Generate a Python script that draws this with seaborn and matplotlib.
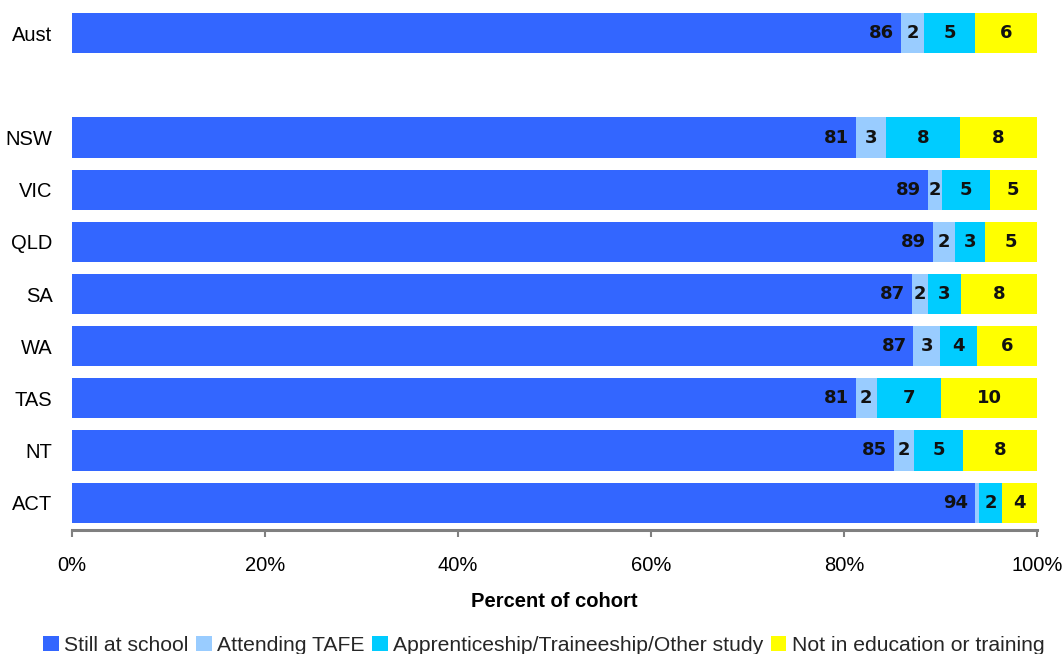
import numpy as np
import pandas as pd
import matplotlib
matplotlib.use("Agg")
import matplotlib.pyplot as plt
from matplotlib.patches import Patch
import seaborn as sns

# Destination of the school-leaving cohort, by jurisdiction (percent)
regions = ["Aust", "NSW", "VIC", "QLD", "SA", "WA", "TAS", "NT", "ACT"]
still_at_school = [85.9, 81.2, 88.7, 89.2, 87.0, 87.2, 81.2, 85.2, 93.6]
attending_tafe = [2.4, 3.2, 1.5, 2.3, 1.7, 2.8, 2.2, 2.1, 0.4]
apprenticeship = [5.3, 7.6, 4.9, 3.1, 3.4, 3.8, 6.7, 5.0, 2.4]
not_in_education = [6.4, 8.0, 4.9, 5.4, 7.9, 6.2, 9.9, 7.7, 3.6]

series_names = [
    "Still at school",
    "Attending TAFE",
    "Apprenticeship/Traineeship/Other study",
    "Not in education or training",
]
series_colors = ["#3366FF", "#99CCFF", "#00CCFF", "#FFFF00"]
x_ticks = [0, 20, 40, 60, 80, 100]

# Row order leaves a blank slot between the national total and the states
row_order = ["Aust", " ", "NSW", "VIC", "QLD", "SA", "WA", "TAS", "NT", "ACT"]

df = pd.DataFrame({
    "region": regions,
    series_names[0]: still_at_school,
    series_names[1]: attending_tafe,
    series_names[2]: apprenticeship,
    series_names[3]: not_in_education,
})
cum = df[series_names].cumsum(axis=1)

sns.set_theme(style="white")
plt.rcParams["font.family"] = ["Liberation Sans", "DejaVu Sans"]

fig = plt.figure(figsize=(10.64, 6.54), dpi=100)
ax = fig.add_axes([0.0677, 0.19, 0.9069, 0.799])

# Stacked bars: draw cumulative totals from the outermost segment inward
for name, color in reversed(list(zip(series_names, series_colors))):
    sns.barplot(
        x=cum[name], y=df["region"], order=row_order, orient="h",
        color=color, saturation=1, width=0.77, edgecolor="none",
        linewidth=0, ax=ax,
    )

# Value labels
pos = {r: row_order.index(r) for r in regions}
for i, r in enumerate(regions):
    y = pos[r]
    left = 0.0
    for k, name in enumerate(series_names):
        v = df.loc[i, name]
        if v >= 1:
            txt = f"{v:.0f}"
            if k == 0:
                ax.text(left + v - 0.7, y, txt, ha="right", va="center",
                        fontsize=13, fontweight="bold", color="#111111",
                        family="DejaVu Sans")
            else:
                ax.text(left + v / 2, y, txt, ha="center", va="center",
                        fontsize=13, fontweight="bold", color="#111111",
                        family="DejaVu Sans")
        left += v

ax.set_xlim(0, 100)
ax.set_ylim(9.52, -0.5)
ax.set_xticks(x_ticks)
ax.set_xticklabels([f"{t}%" for t in x_ticks])
ax.set_xlabel("Percent of cohort", fontsize=14.5, fontweight="bold",
              labelpad=12, color="black")
ax.set_ylabel("")

for s in ["top", "right", "left"]:
    ax.spines[s].set_visible(False)
ax.spines["bottom"].set_color("#808080")
ax.spines["bottom"].set_linewidth(2.2)
ax.tick_params(axis="x", bottom=True, direction="out", length=5, width=1.5,
               color="#808080", labelsize=14.5, pad=14, labelcolor="black")
ax.tick_params(axis="y", left=False, labelsize=14.5, pad=8,
               labelcolor="black")
ax.grid(False)

handles = [Patch(facecolor=c, edgecolor="none") for c in series_colors]
fig.legend(handles, series_names, loc="lower center",
           bbox_to_anchor=(0.511, -0.014), ncol=4, frameon=False,
           fontsize=15.2, handlelength=0.75, handleheight=0.75,
           handletextpad=0.25, columnspacing=0.35, borderaxespad=0)

fig.savefig("out.png", dpi=100, facecolor="white")
